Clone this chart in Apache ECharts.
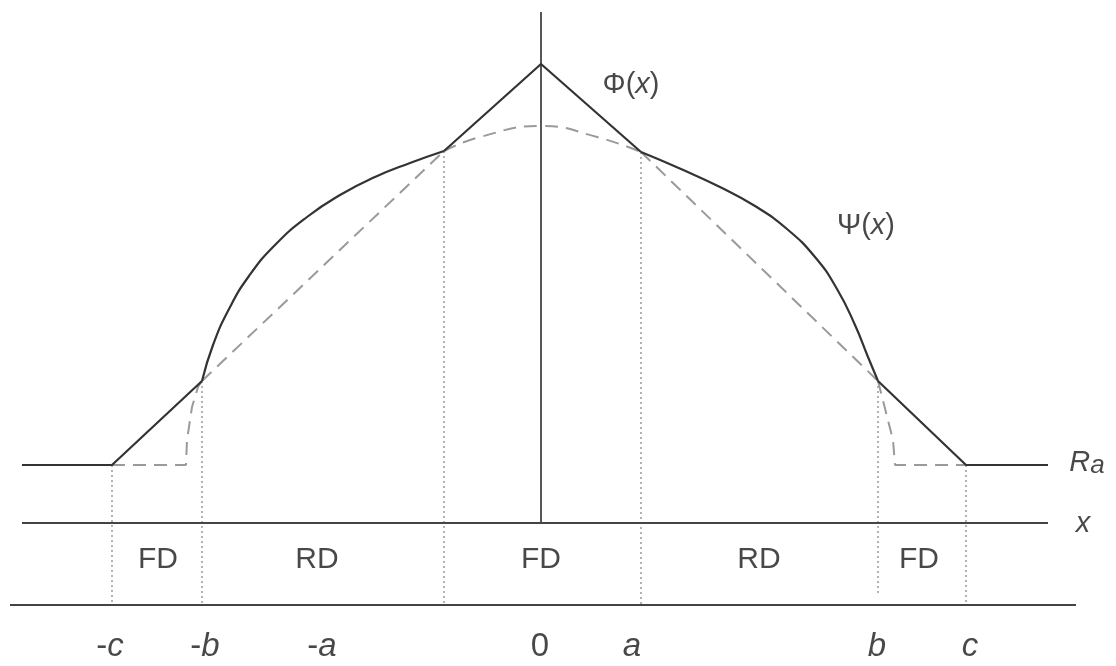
<!DOCTYPE html>
<html>
<head>
<meta charset="utf-8">
<script src="https://cdn.jsdelivr.net/npm/echarts@6/dist/echarts.min.js"></script>
<style>
  html, body { margin: 0; padding: 0; background: #fff; }
  #chart { width: 1116px; height: 666px; }
</style>
</head>
<body>
<div id="chart"></div>
<script>
// Domain: x in units along the axis (0 at the centre), y measured up from the x line.
const RA = 0.58;            // level of R_a
const BASE_Y = -0.82;       // lower reference line

// Breakpoints -c, -b, -a', a, b, c (where the curves change form)
const breakX = [-4.29, -3.39, -0.97, 1.0, 3.37, 4.25];
const breakTopY = [0.58, 1.42, 3.72, 3.71, 1.42, 0.58];
const breakBottomY = [-0.82, -0.82, -0.82, -0.82, -0.73, -0.82];

// Solid curve Φ(x) / Ψ(x)
const phiLeftLine = [[-5.19, 0.58], [-4.29, 0.58], [-3.39, 1.42]];
const psiLeftCurve = [[-3.39, 1.42], [-3.28, 1.78], [-3.12, 2.14], [-2.92, 2.47],
  [-2.66, 2.78], [-2.34, 3.06], [-2.01, 3.28], [-1.66, 3.46], [-1.31, 3.60], [-0.97, 3.72]];
const phiPeak = [[-0.97, 3.72], [0, 4.59], [1.0, 3.71]];
const psiRightCurve = [[1.0, 3.71], [1.40, 3.54], [1.79, 3.36], [2.14, 3.17], [2.46, 2.94],
  [2.74, 2.66], [2.96, 2.34], [3.14, 1.98], [3.27, 1.66], [3.37, 1.42]];
const phiRightLine = [[3.37, 1.42], [4.25, 0.58], [5.07, 0.58]];

// Dashed comparison curve
const dashLeftFoot = [[-4.29, 0.58], [-3.55, 0.58], [-3.54, 0.83], [-3.49, 1.16], [-3.43, 1.36], [-3.39, 1.42]];
const dashLeftRamp = [[-3.39, 1.42], [-0.97, 3.72]];
const dashArc = [[-0.97, 3.72], [-0.61, 3.86], [0, 3.97], [0.56, 3.86], [1.0, 3.71]];
const dashRightRamp = [[1.0, 3.71], [3.37, 1.42]];
const dashRightFoot = [[3.37, 1.42], [3.52, 0.83], [3.54, 0.58], [4.25, 0.58]];

// Reference lines
const verticalAxis = [[0, 0], [0, 5.11]];
const xLine = [[-5.19, 0], [5.07, 0]];
const baseLine = [[-5.31, BASE_Y], [5.35, BASE_Y]];

// Region labels between the lines
const regionLabels = ['FD', 'RD', 'FD', 'RD', 'FD'];
const regionX = [-3.83, -2.24, 0, 2.18, 3.78];
const regionY = -0.37;

// Tick labels under the lower line
const tickLabels = ['{m|-}{i|c}', '{m|-}{i|b}', '{m|-}{i|a}', '{m|0}', '{i|a}', '{i|b}', '{i|c}'];
const tickX = [-4.31, -3.36, -2.19, -0.01, 0.91, 3.36, 4.29];
const tickY = -1.24;

// Curve and line names
const curveLabels = [
  { text: '{n|Φ(}{i|x}{n|)}', x: 0.90, y: 4.38 },
  { text: '{n|Ψ(}{i|x}{n|)}', x: 3.25, y: 2.97 },
  { text: '{i|R}{s|a}', x: 5.46, y: 0.60 },
  { text: '{i|x}', x: 5.42, y: -0.01 }
];

const INK = '#333333';
const TEXT = '#1a1a1a';
const DASH = '#9a9a9a';
const DOT = '#8a8a8a';
const FONT = '"Liberation Sans", Arial, sans-serif';

function lineSeries(data, style, smooth) {
  return {
    type: 'line', data: data, symbol: 'none', silent: true,
    smooth: smooth ? 0.5 : false,
    lineStyle: style, z: style.z || 2
  };
}

const solid = { color: INK, width: 2.2, z: 3 };
const axisStyle = { color: '#444444', width: 1.8, z: 3 };
const dashed = { color: DASH, width: 2, type: [13, 8], z: 2 };
const dotted = { color: DOT, width: 1.3, type: [2, 3], z: 1 };

const series = [];
[verticalAxis, xLine, baseLine].forEach(d => series.push(lineSeries(d, axisStyle, false)));
[phiLeftLine, phiPeak, phiRightLine].forEach(d => series.push(lineSeries(d, solid, false)));
[psiLeftCurve, psiRightCurve].forEach(d => series.push(lineSeries(d, solid, true)));
[dashLeftFoot, dashLeftRamp, dashRightRamp, dashRightFoot].forEach(d => series.push(lineSeries(d, dashed, false)));
series.push(lineSeries(dashArc, dashed, true));
breakX.forEach((bx, i) => {
  series.push(lineSeries([[bx, breakTopY[i]], [bx, breakBottomY[i]]], dotted, false));
});

function textSeries(points, fontSize, rich) {
  return {
    type: 'scatter', silent: true, symbolSize: 1,
    itemStyle: { color: 'rgba(0,0,0,0)' },
    data: points.map(p => ({ value: [p.x, p.y], name: p.text })),
    label: {
      show: true, position: 'inside', formatter: '{b}',
      color: TEXT, fontFamily: FONT, fontSize: fontSize, rich: rich
    },
    z: 5
  };
}

function richSet(size) {
  return {
    n: { fontFamily: FONT, fontSize: size, color: TEXT },
    m: { fontFamily: FONT, fontSize: size, color: TEXT },
    i: { fontFamily: FONT, fontSize: size, color: TEXT, fontStyle: 'italic' },
    s: { fontFamily: FONT, fontSize: size - 3, color: TEXT, fontStyle: 'italic', padding: [6, 0, 0, 0] }
  };
}

series.push(textSeries(regionLabels.map((t, i) => ({ text: t, x: regionX[i], y: regionY })), 30));
series.push(textSeries(tickLabels.map((t, i) => ({ text: t, x: tickX[i], y: tickY })), 33, richSet(33)));
series.push(textSeries(curveLabels, 29, richSet(29)));

const chart = echarts.init(document.getElementById('chart'), null, { renderer: 'canvas' });
chart.setOption({
  animation: false,
  backgroundColor: '#ffffff',
  grid: { left: 0, right: 0, top: 0, bottom: 0 },
  xAxis: { type: 'value', min: -5.41, max: 5.75, show: false },
  yAxis: { type: 'value', min: -1.43, max: 5.23, show: false },
  series: series
});
</script>
</body>
</html>
